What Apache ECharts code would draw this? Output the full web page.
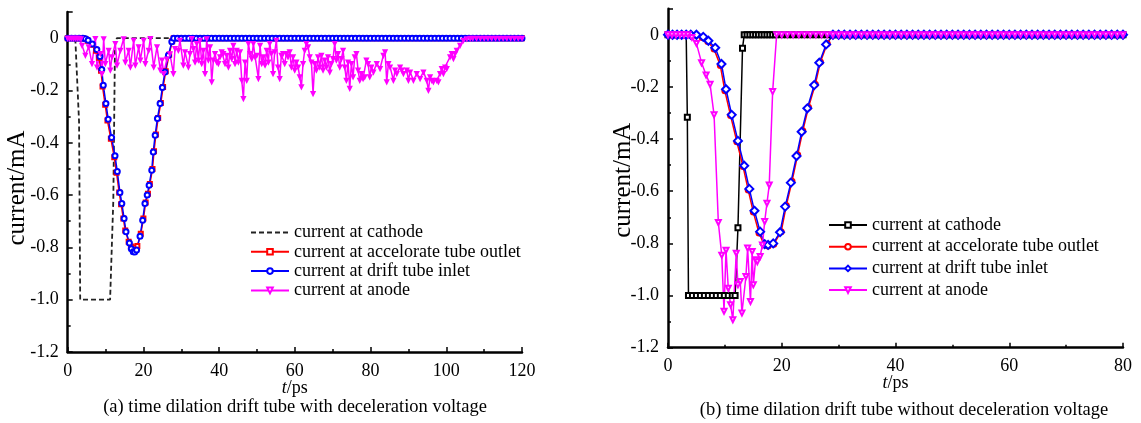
<!DOCTYPE html>
<html>
<head>
<meta charset="utf-8">
<script src="https://cdn.jsdelivr.net/npm/echarts@6/dist/echarts.min.js"></script>
<style>
  html, body { margin: 0; padding: 0; background: #fff; }
  #chart { width: 1141px; height: 423px; }
</style>
</head>
<body>
<div id="chart"></div>
<script>
// ---- Panel (a): drift tube with deceleration voltage, t in ps, current in mA ----
const cathodeA = [
  [0,0],[1,0],[2,0],[2.4,0],[3.0,-0.32],[3.3,-1.0],[4,-1.0],[5,-1.0],[6,-1.0],[7,-1.0],
  [8,-1.0],[9,-1.0],[10,-1.0],[11.2,-1.0],[12.05,-0.62],[12.5,-0.015],[13,0],[14,0],[15,0],[16,0],
  [17,0],[18,0],[19,0],[20,0],[21,0],[22,0],[23,0],[24,0],[25,0],[26,0],[27,0]
];
const accelA = [
  [0,0],[1,0],[2,0],[3,0],[4,0],[4.7,-0.003],[5.3,-0.01],[6.4,-0.025],[7.5,-0.048],[8.3,-0.075],
  [8.8,-0.125],[9.2,-0.185],[9.9,-0.255],[10.5,-0.315],[11.4,-0.385],[12.3,-0.455],[12.9,-0.515],
  [13.6,-0.59],[14.1,-0.635],[14.7,-0.69],[15.2,-0.735],[16.1,-0.778],[16.7,-0.797],[17.3,-0.803],
  [17.8,-0.80],[18.4,-0.795],[19.3,-0.748],[20.0,-0.69],[20.6,-0.628],[21.2,-0.595],[21.7,-0.558],
  [22.4,-0.50],[22.8,-0.432],[23.3,-0.368],[23.9,-0.305],[24.6,-0.248],[25.2,-0.187],[25.9,-0.127],
  [26.8,-0.063],[27.6,-0.012]
];
const driftA = [
  [0,0],[1,0],[2,0],[3,0],[4,0],[4.7,-0.002],[5.4,-0.008],[6.5,-0.022],[7.7,-0.043],[8.5,-0.07],
  [9.0,-0.12],[9.4,-0.18],[10.1,-0.25],[10.7,-0.31],[11.6,-0.38],[12.5,-0.45],[13.1,-0.51],
  [13.8,-0.59],[14.3,-0.632],[14.9,-0.69],[15.4,-0.74],[16.3,-0.783],[16.8,-0.805],[17.3,-0.817],
  [17.7,-0.818],[18.2,-0.81],[19.1,-0.757],[19.8,-0.696],[20.4,-0.632],[21.0,-0.60],[21.5,-0.562],
  [22.2,-0.505],[22.6,-0.435],[23.1,-0.371],[23.7,-0.307],[24.4,-0.25],[25.0,-0.189],[25.7,-0.129],
  [26.6,-0.065],[27.5,-0.014]
];
const anodeA = [
  [0,0],[0.5,0],[1,0],[1.5,0],[2,0],[2.5,0],[3,0],[3.5,-0.002],[3.78,-0.027],[4.66,-0.065],
  [5.54,-0.033],[6.42,-0.097],[7.3,-0.001],[7.74,-0.11],[8.62,-0.059],[9.06,-0.135],[9.5,-0.002],
  [9.94,-0.097],[10.82,-0.046],[11.26,-0.122],[11.7,-0.071],[12.58,-0.02],[13.03,-0.103],
  [13.91,-0.046],[14.79,-0.002],[15.23,-0.091],[16.11,-0.046],[16.55,-0.11],[17.43,-0.008],
  [17.87,-0.103],[18.75,-0.033],[19.19,-0.084],[20.07,-0.008],[20.51,-0.097],[21.39,-0.046],
  [21.83,-0.001],[22.71,-0.11],[23.59,-0.033],[24.47,-0.122],[24.91,-0.084],[25.35,-0.135],
  [26.2,-0.08],[27.0,-0.06],[27.91,-0.135],[28.35,-0.04],[29.23,-0.046],[29.67,-0.008],
  [30.55,-0.103],[30.99,-0.052],[31.87,-0.11],[32.31,-0.059],[32.76,-0.001],[33.2,-0.04],
  [33.64,-0.091],[34.08,-0.02],[34.52,-0.084],[34.96,-0.008],[35.4,-0.097],[35.84,-0.046],
  [36.28,-0.135],[36.72,-0.002],[37.16,-0.084],[37.6,-0.033],[38.04,-0.167],[38.48,-0.084],
  [38.92,-0.059],[39.36,-0.091],[39.8,-0.097],[40.24,-0.071],[40.68,-0.052],[41.12,-0.059],
  [41.56,-0.097],[42.0,-0.065],[42.44,-0.11],[42.88,-0.046],[43.32,-0.078],[43.76,-0.027],
  [44.2,-0.097],[44.64,-0.046],[45.09,-0.091],[45.53,-0.052],[45.97,-0.161],[46.41,-0.231],
  [46.85,-0.091],[47.29,-0.161],[47.73,-0.02],[48.17,-0.059],[48.61,-0.078],[49.05,-0.02],
  [49.49,-0.071],[49.93,-0.065],[50.37,-0.154],[50.81,-0.027],[51.25,-0.097],[51.69,-0.071],
  [52.13,-0.103],[52.57,-0.046],[53.01,-0.091],[53.36,-0.02],[53.8,-0.059],[54.24,-0.135],
  [54.68,-0.052],[55.12,-0.008],[55.56,-0.11],[56.0,-0.154],[56.44,-0.065],[56.88,-0.059],
  [57.32,-0.097],[57.76,-0.059],[58.2,-0.071],[58.64,-0.052],[59.08,-0.11],[59.53,-0.071],
  [59.97,-0.122],[60.41,-0.091],[60.85,-0.11],[61.29,-0.148],[61.73,-0.186],[62.17,-0.097],
  [62.61,-0.046],[63.05,-0.02],[63.49,-0.033],[63.93,-0.071],[64.37,-0.091],[64.81,-0.212],
  [65.25,-0.097],[65.69,-0.122],[66.13,-0.071],[66.57,-0.11],[67.01,-0.065],[67.45,-0.122],
  [67.89,-0.084],[68.33,-0.11],[68.77,-0.071],[69.21,-0.129],[69.65,-0.097],[70.09,-0.078],
  [70.53,-0.02],[70.97,-0.084],[71.41,-0.059],[71.85,-0.11],[72.3,-0.078],[72.74,-0.046],
  [73.18,-0.11],[73.62,-0.161],[74.06,-0.091],[74.5,-0.192],[74.94,-0.097],[75.38,-0.148],
  [75.82,-0.071],[76.26,-0.059],[76.7,-0.122],[77.14,-0.161],[77.58,-0.135],[78.02,-0.154],
  [78.46,-0.148],[78.9,-0.084],[79.34,-0.097],[79.78,-0.148],[80.22,-0.11],[80.75,-0.129],
  [81.63,-0.097],[82.51,-0.116],[83.39,-0.065],[83.83,-0.052],[84.27,-0.167],[84.71,-0.097],
  [85.15,-0.11],[86.03,-0.161],[86.48,-0.122],[86.92,-0.135],[87.8,-0.11],[88.24,-0.122],
  [88.68,-0.135],[89.56,-0.122],[90.0,-0.161],[90.44,-0.129],[91.32,-0.161],[92.2,-0.135],
  [93.08,-0.154],[93.96,-0.129],[94.84,-0.161],[95.28,-0.199],[95.72,-0.148],[96.16,-0.161],
  [96.6,-0.167],[97.48,-0.161],[97.92,-0.167],[98.36,-0.135],[98.8,-0.116],[99.25,-0.135],
  [99.69,-0.11],[100.13,-0.116],[101.01,-0.071],[101.45,-0.059],[101.89,-0.078],[102.33,-0.059],
  [102.77,-0.046],[103.65,-0.027],[104.53,-0.008],[105.41,-0.002],[106.3,0],[107,0],[108,0],
  [109,0],[110,0],[111,0],[112,0],[113,0],[114,0],[115,0],[116,0],[117,0],[118,0],[119,0],[120,0]
];
// settled (zero) current after the pulse has passed, shared by the upper three traces
const flatA = [
  [28,0],[29,0],[30,0],[31,0],[32,0],[33,0],[34,0],[35,0],[36,0],[37,0],
  [38,0],[39,0],[40,0],[41,0],[42,0],[43,0],[44,0],[45,0],[46,0],[47,0],
  [48,0],[49,0],[50,0],[51,0],[52,0],[53,0],[54,0],[55,0],[56,0],[57,0],
  [58,0],[59,0],[60,0],[61,0],[62,0],[63,0],[64,0],[65,0],[66,0],[67,0],
  [68,0],[69,0],[70,0],[71,0],[72,0],[73,0],[74,0],[75,0],[76,0],[77,0],
  [78,0],[79,0],[80,0],[81,0],[82,0],[83,0],[84,0],[85,0],[86,0],[87,0],
  [88,0],[89,0],[90,0],[91,0],[92,0],[93,0],[94,0],[95,0],[96,0],[97,0],
  [98,0],[99,0],[100,0],[101,0],[102,0],[103,0],[104,0],[105,0],[106,0],[107,0],
  [108,0],[109,0],[110,0],[111,0],[112,0],[113,0],[114,0],[115,0],[116,0],[117,0],
  [118,0],[119,0],[120,0]
];

// ---- Panel (b): drift tube without deceleration voltage ----
const cathodeB = [
  [0,0],[0.7,0],[1.4,0],[2.1,0],[2.8,0],[3.2,0],[3.4,-0.316],[3.6,-1.0],[4.3,-1.0],[5.0,-1.0],
  [5.7,-1.0],[6.4,-1.0],[7.1,-1.0],[7.8,-1.0],[8.5,-1.0],[9.2,-1.0],[9.9,-1.0],[10.6,-1.0],
  [11.3,-1.0],[11.8,-1.0],[12.3,-0.74],[13.1,-0.052],[13.4,0],[13.9,0],[14.4,0],[14.9,0],[15.4,0],
  [15.9,0],[16.4,0],[16.9,0],[17.4,0],[17.9,0],[18.4,0],[18.9,0],[20,0],[21,0],[22,0],[23,0],
  [24,0],[25,0],[26,0],[27,0],[28,0]
];
const accelB = [
  [0,0],[0.8,0],[1.6,0],[2.4,0],[3.2,0],[4.0,0],[4.9,-0.002],[6.0,-0.01],[7.0,-0.026],[8.1,-0.055],
  [9.2,-0.118],[10.0,-0.215],[11.0,-0.31],[12.1,-0.41],[13.2,-0.505],[14.1,-0.595],[15.0,-0.68],
  [16.0,-0.76],[16.9,-0.805],[17.6,-0.81],[18.6,-0.803],[19.9,-0.755],[20.8,-0.655],[21.8,-0.562],
  [22.8,-0.46],[23.7,-0.368],[24.7,-0.278],[25.9,-0.19],[26.8,-0.104],[28.0,-0.033]
];
const driftB = [
  [0,0],[0.8,0],[1.6,0],[2.4,0],[3.2,0],[4.0,0],[5.0,0],[6.2,-0.008],[7.1,-0.023],[8.3,-0.05],
  [9.4,-0.112],[10.2,-0.209],[11.2,-0.307],[12.3,-0.407],[13.4,-0.502],[14.3,-0.591],[15.2,-0.675],
  [16.2,-0.755],[17.0,-0.803],[17.6,-0.806],[18.5,-0.8],[19.7,-0.757],[20.6,-0.659],[21.6,-0.567],
  [22.6,-0.465],[23.5,-0.372],[24.5,-0.282],[25.7,-0.193],[26.6,-0.107],[27.8,-0.037]
];
const anodeB = [
  [0,0],[0.7,0],[1.4,0],[2.1,0],[2.8,0],[3.5,0],[4.2,-0.01],[5.0,-0.033],[5.9,-0.107],[6.7,-0.154],
  [7.4,-0.19],[8.1,-0.307],[8.85,-0.72],[9.45,-0.845],[9.85,-1.06],[10.2,-0.826],[10.6,-0.972],
  [11.0,-1.035],[11.4,-1.093],[12.0,-0.838],[12.3,-0.959],[12.7,-0.946],[13.0,-1.067],[13.7,-0.927],
  [14.0,-0.818],[14.5,-1.023],[14.8,-0.831],[15.0,-0.959],[15.4,-0.863],[15.7,-0.87],[16.2,-0.85],
  [16.6,-0.806],[17.0,-0.716],[17.4,-0.646],[17.8,-0.576],[18.4,-0.218],[19.1,0],[20,0],[21,0],
  [22,0],[23,0],[24,0],[25,0],[26,0],[27,0],[28,0]
];
const flatB = [
  [29,0],[30,0],[31,0],[32,0],[33,0],[34,0],[35,0],[36,0],[37,0],[38,0],
  [39,0],[40,0],[41,0],[42,0],[43,0],[44,0],[45,0],[46,0],[47,0],[48,0],
  [49,0],[50,0],[51,0],[52,0],[53,0],[54,0],[55,0],[56,0],[57,0],[58,0],
  [59,0],[60,0],[61,0],[62,0],[63,0],[64,0],[65,0],[66,0],[67,0],[68,0],
  [69,0],[70,0],[71,0],[72,0],[73,0],[74,0],[75,0],[76,0],[77,0],[78,0],
  [79,0],[80,0]
];

// axis ranges and labels
const yMin = -1.2, yMax = 0.1, yStep = 0.2;
const xMaxA = 120, xMaxB = 80, xStep = 20;
const legendText = {
  cathodeA: 'current at cathode', accelA: 'current at accelorate tube outlet',
  driftA: 'current at drift tube inlet', anodeA: 'current at anode',
  cathodeB: 'current at cathode', accelB: 'current at accelorate tube outlet',
  driftB: 'current at drift tube inlet', anodeB: 'current at anode'
};
const captionA = '(a) time dilation drift tube with deceleration voltage';
const captionB = '(b) time dilation drift tube without deceleration voltage';

const FONT = "'Liberation Serif', 'Times New Roman', serif";
const BLACK = '#000', RED = '#ff0000', BLUE = '#0000ff', MAGENTA = '#ff00ff';

function xAxisCfg(grid, max) {
  return {
    gridIndex: grid, type: 'value', min: 0, max: max, interval: xStep,
    axisLine: { show: true, onZero: false, lineStyle: { color: BLACK, width: 2.5 } },
    axisTick: { show: true, inside: true, length: 5, lineStyle: { color: BLACK, width: 1.5 } },
    minorTick: { show: true, splitNumber: 2, length: 3, lineStyle: { color: BLACK, width: 1.5 } },
    splitLine: { show: false },
    axisLabel: { color: BLACK, fontFamily: FONT, fontSize: 18, margin: 10 },
    name: '{i|t}/ps', nameLocation: 'middle', nameGap: 27, nameMoveOverlap: false,
    nameTextStyle: {
      color: BLACK, fontFamily: FONT, fontSize: 18,
      rich: { i: { fontStyle: 'italic', fontFamily: FONT, fontSize: 18, color: BLACK } }
    }
  };
}
function yAxisCfg(grid, gap, shift) {
  return {
    gridIndex: grid, type: 'value', min: yMin, max: yMax, interval: yStep,
    axisLine: { show: true, onZero: false, lineStyle: { color: BLACK, width: 2.5 } },
    axisTick: { show: true, inside: true, length: 5, lineStyle: { color: BLACK, width: 1.5 } },
    minorTick: { show: true, splitNumber: 2, length: 3, lineStyle: { color: BLACK, width: 1.5 } },
    splitLine: { show: false },
    axisLabel: {
      color: BLACK, fontFamily: FONT, fontSize: 18, margin: 9, showMaxLabel: false,
      formatter: v => (Math.abs(v) < 1e-9 ? '0' : v.toFixed(1))
    },
    name: 'current/mA', nameLocation: 'middle', nameGap: gap, nameRotate: 90, nameMoveOverlap: false,
    nameTextStyle: { color: BLACK, fontFamily: FONT, fontSize: 25, padding: [0, shift, 0, 0] }
  };
}
function lineSeries(name, grid, data, color, symbol, size, extra) {
  return Object.assign({
    name: name, type: 'line', xAxisIndex: grid, yAxisIndex: grid, data: data,
    symbol: symbol, symbolSize: size, showSymbol: symbol !== 'none',
    lineStyle: { color: color, width: 1.5 },
    itemStyle: { color: color, borderWidth: 1 },
    animation: false, silent: true
  }, extra || {});
}

const legendBase = {
  orient: 'vertical', selectedMode: false, itemWidth: 38, itemHeight: 7, padding: 0,
  formatter: n => legendText[n],
  textStyle: { color: BLACK, fontFamily: FONT, fontSize: 18, lineHeight: 18 }
};

const option = {
  animation: false,
  backgroundColor: '#fff',
  grid: [
    { left: 67.7, top: 12, width: 454.3, height: 340 },
    { left: 668, top: 8.7, width: 455, height: 339 }
  ],
  xAxis: [xAxisCfg(0, xMaxA), xAxisCfg(1, xMaxB)],
  yAxis: [yAxisCfg(0, 38, 12), yAxisCfg(1, 32, 4)],
  legend: [
    Object.assign({}, legendBase, { left: 250, top: 223.5, itemGap: 1.3,
      data: [{ name: 'cathodeA', itemStyle: { opacity: 0 } }, 'accelA', 'driftA', 'anodeA'] }),
    Object.assign({}, legendBase, { left: 828, top: 216, itemGap: 3.7,
      data: ['cathodeB', 'accelB', 'driftB', 'anodeB'] })
  ],
  graphic: [
    { type: 'text', x: 295, y: 407, silent: true,
      style: { text: captionA, font: '18.5px ' + FONT, fill: BLACK, align: 'center', verticalAlign: 'middle' } },
    { type: 'text', x: 904, y: 410, silent: true,
      style: { text: captionB, font: '18.5px ' + FONT, fill: BLACK, align: 'center', verticalAlign: 'middle' } }
  ],
  series: [
    lineSeries('cathodeA', 0, cathodeA.concat(flatA), '#222', 'none', 0,
      { lineStyle: { color: '#222', width: 1.8, type: [5, 3] } }),
    lineSeries('accelA', 0, accelA.concat(flatA), RED, 'emptyRect', 4),
    lineSeries('driftA', 0, driftA.concat(flatA), BLUE, 'emptyCircle', 5),
    lineSeries('anodeA', 0, anodeA, MAGENTA, 'emptyTriangle', 3, { symbolRotate: 180 }),
    lineSeries('cathodeB', 1, cathodeB.concat(flatB), BLACK, 'emptyRect', 5),
    lineSeries('accelB', 1, accelB.concat(flatB), RED, 'emptyCircle', 5),
    lineSeries('driftB', 1, driftB.concat(flatB), BLUE, 'emptyDiamond', 8),
    lineSeries('anodeB', 1, anodeB.concat(flatB), MAGENTA, 'emptyTriangle', 5, { symbolRotate: 180 })
  ]
};

const chart = echarts.init(document.getElementById('chart'), null, { renderer: 'canvas' });
chart.setOption(option);
</script>
</body>
</html>
